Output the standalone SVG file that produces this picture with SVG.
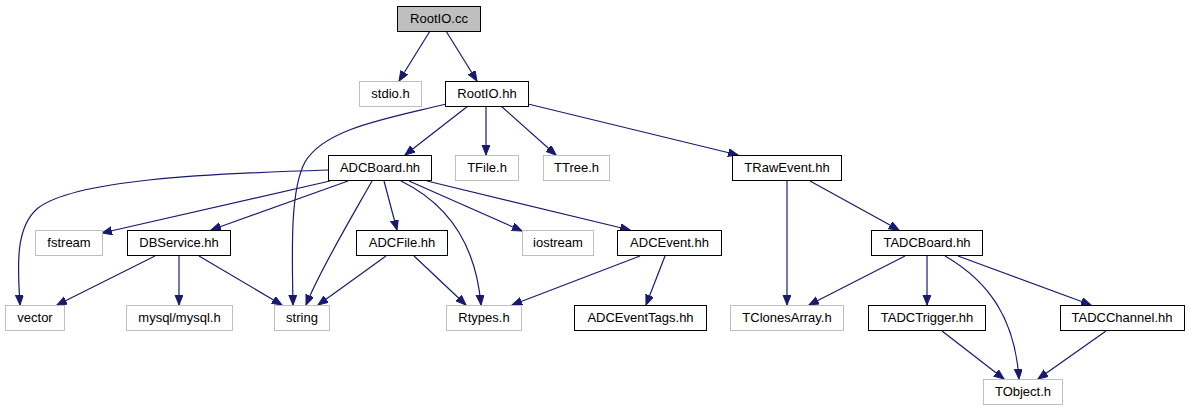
<svg xmlns="http://www.w3.org/2000/svg" width="1191" height="411" viewBox="0 0 1191 411">
<style>
.n rect{fill:#fff;stroke:#000;stroke-width:1}
.s rect{fill:#fff;stroke:#bfbfbf;stroke-width:1}
.root rect{fill:#bfbfbf;stroke:#000}
text{font-family:"Liberation Sans",Arial,sans-serif;font-size:13px;text-anchor:middle;fill:#000}
#edges path{fill:none;stroke:#191970;stroke-width:1.2;marker-end:url(#a)}
</style>
<defs>
<marker id="a" markerUnits="userSpaceOnUse" markerWidth="11" markerHeight="9" refX="10" refY="4" orient="auto" viewBox="0 0 11 9">
<path d="M0,0 L10,4 L0,8 z" fill="#191970" stroke="#191970" stroke-width="1"/>
</marker>
</defs>
<rect width="1191" height="411" fill="#fff"/>
<g id="edges">
<path d="M430,31 L399,81"/>
<path d="M446,31 L477,81"/>
<path d="M468,106 L405,155"/>
<path d="M486,106 L486,155"/>
<path d="M501,106 L556,155"/>
<path d="M528,104 L738,155"/>
<path d="M446,104 C390,118 325,128 305,162 C290,190 292,250 293,305"/>
<path d="M328,170 C200,174 75,180 38,208 C14,228 18,270 20,305"/>
<path d="M330,181 L102,233"/>
<path d="M348,181 L211,230"/>
<path d="M372,181 C350,220 320,270 306,305"/>
<path d="M384,181 L397,230"/>
<path d="M401,181 C440,200 475,235 481,305"/>
<path d="M409,181 L522,231"/>
<path d="M427,181 L630,230"/>
<path d="M386,256 L318,305"/>
<path d="M414,256 L466,305"/>
<path d="M640,256 L512,305"/>
<path d="M665,256 L646,305"/>
<path d="M155,256 L57,305"/>
<path d="M179,256 L179,305"/>
<path d="M199,256 L282,305"/>
<path d="M787,181 L787,305"/>
<path d="M810,181 L899,230"/>
<path d="M905,256 L809,305"/>
<path d="M927,256 L927,305"/>
<path d="M945,256 C990,282 1015,320 1019,379"/>
<path d="M958,256 L1091,305"/>
<path d="M942,331 L1004,379"/>
<path d="M1106,331 L1038,379"/>
</g>
<g id="RootIO_cc" class="root"><rect x="397.5" y="6.5" width="83" height="25"/><text x="439" y="23">RootIO.cc</text></g>
<g id="stdio_h" class="s"><rect x="359.5" y="81.5" width="62" height="25"/><text x="390.5" y="98">stdio.h</text></g>
<g id="RootIO_hh" class="n"><rect x="445.5" y="81.5" width="83" height="25"/><text x="487" y="98">RootIO.hh</text></g>
<g id="ADCBoard_hh" class="n"><rect x="328.5" y="155.5" width="103" height="25"/><text x="380" y="172">ADCBoard.hh</text></g>
<g id="TFile_h" class="s"><rect x="455.5" y="155.5" width="63" height="25"/><text x="487" y="172">TFile.h</text></g>
<g id="TTree_h" class="s"><rect x="543.5" y="155.5" width="66" height="25"/><text x="576.5" y="172">TTree.h</text></g>
<g id="TRawEvent_hh" class="n"><rect x="732.5" y="155.5" width="109" height="25"/><text x="787" y="172">TRawEvent.hh</text></g>
<g id="fstream" class="s"><rect x="35.5" y="230.5" width="67" height="25"/><text x="69" y="247">fstream</text></g>
<g id="DBService_hh" class="n"><rect x="127.5" y="230.5" width="103" height="25"/><text x="179" y="247">DBService.hh</text></g>
<g id="ADCFile_hh" class="n"><rect x="356.5" y="230.5" width="91" height="25"/><text x="402" y="247">ADCFile.hh</text></g>
<g id="iostream" class="s"><rect x="522.5" y="230.5" width="71" height="25"/><text x="558" y="247">iostream</text></g>
<g id="ADCEvent_hh" class="n"><rect x="617.5" y="230.5" width="104" height="25"/><text x="669.5" y="247">ADCEvent.hh</text></g>
<g id="TADCBoard_hh" class="n"><rect x="871.5" y="230.5" width="111" height="25"/><text x="927" y="247">TADCBoard.hh</text></g>
<g id="vector" class="s"><rect x="5.5" y="305.5" width="59" height="25"/><text x="35" y="322">vector</text></g>
<g id="mysql_h" class="s"><rect x="126.5" y="305.5" width="106" height="25"/><text x="179.5" y="322">mysql/mysql.h</text></g>
<g id="string" class="s"><rect x="274.5" y="305.5" width="55" height="25"/><text x="302" y="322">string</text></g>
<g id="Rtypes_h" class="s"><rect x="446.5" y="305.5" width="75" height="25"/><text x="484" y="322">Rtypes.h</text></g>
<g id="ADCEventTags_hh" class="n"><rect x="574.5" y="305.5" width="132" height="25"/><text x="640.5" y="322">ADCEventTags.hh</text></g>
<g id="TClonesArray_h" class="s"><rect x="730.5" y="305.5" width="113" height="25"/><text x="787" y="322">TClonesArray.h</text></g>
<g id="TADCTrigger_hh" class="n"><rect x="868.5" y="305.5" width="117" height="25"/><text x="927" y="322">TADCTrigger.hh</text></g>
<g id="TADCChannel_hh" class="n"><rect x="1060.5" y="305.5" width="124" height="25"/><text x="1122" y="322">TADCChannel.hh</text></g>
<g id="TObject_h" class="s"><rect x="983.5" y="379.5" width="79" height="25"/><text x="1023" y="396">TObject.h</text></g>
</svg>
